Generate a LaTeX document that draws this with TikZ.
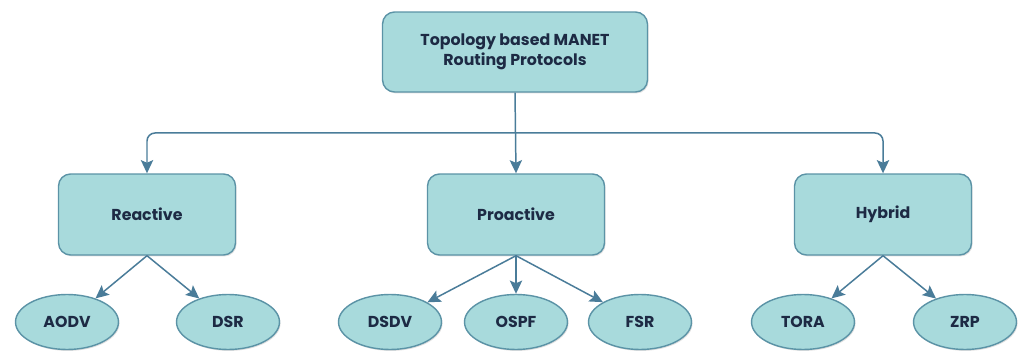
\documentclass[tikz,border=0pt]{standalone}
\usepackage{fontspec}
\setmainfont{Poppins}
\usetikzlibrary{arrows.meta,shadows,shapes.geometric}
\definecolor{boxfill}{HTML}{A8DADC}
\definecolor{boxline}{HTML}{5B93A6}
\definecolor{wire}{HTML}{4A7C99}
\definecolor{ink}{HTML}{1D2A44}
\tikzset{
  base/.style={fill=boxfill, draw=boxline, line width=0.8pt, text=ink,
    font=\bfseries\fontsize{9}{11.5}\selectfont, align=center,
    drop shadow={shadow xshift=0.6pt, shadow yshift=-0.8pt, opacity=0.25}},
  rootbox/.style={base, rectangle, rounded corners=0.24cm, minimum width=5.3cm, minimum height=1.6cm},
  groupbox/.style={base, rectangle, rounded corners=0.24cm, minimum width=3.54cm, minimum height=1.62cm},
  leaf/.style={base, ellipse, minimum width=2.06cm, minimum height=1.1cm, inner sep=0pt},
  link/.style={draw=wire, line width=0.85pt, -{Stealth[inset=1.5pt, length=7.5pt, width=7pt]}},
}
\begin{document}
\begin{tikzpicture}[x=0.02cm, y=-0.02cm]
\useasboundingbox (0,0) rectangle (1024,354);
% root
\node[rootbox] (root) at (515,52) {Topology based MANET\\Routing Protocols};
% protocol classes
\node[groupbox] (re) at (147,214.5) {Reactive};
\node[groupbox] (pro) at (516,214.5) {Proactive};
\node[groupbox] (hy) at (883,214.5) {Hybrid};
% protocols
\node[leaf] (aodv) at (67,322) {AODV};
\node[leaf] (dsr) at (228,322) {DSR};
\node[leaf] (dsdv) at (390,322) {DSDV};
\node[leaf] (ospf) at (516,322) {OSPF};
\node[leaf] (fsr) at (640,322) {FSR};
\node[leaf] (tora) at (803,322) {TORA};
\node[leaf] (zrp) at (965,322) {ZRP};
% bus from the root to the classes
\coordinate (bus) at (515,133);
\draw[link] (root.south) -- (pro.north);
\draw[link, rounded corners=0.16cm] (bus) -| (re.north);
\draw[link, rounded corners=0.16cm] (bus) -| (hy.north);
% class to protocol links
\draw[link] (re.south) -- (aodv);
\draw[link] (re.south) -- (dsr);
\draw[link] (pro.south) -- (dsdv);
\draw[link] (pro.south) -- (ospf);
\draw[link] (pro.south) -- (fsr);
\draw[link] (hy.south) -- (tora);
\draw[link] (hy.south) -- (zrp);
\end{tikzpicture}
\end{document}
